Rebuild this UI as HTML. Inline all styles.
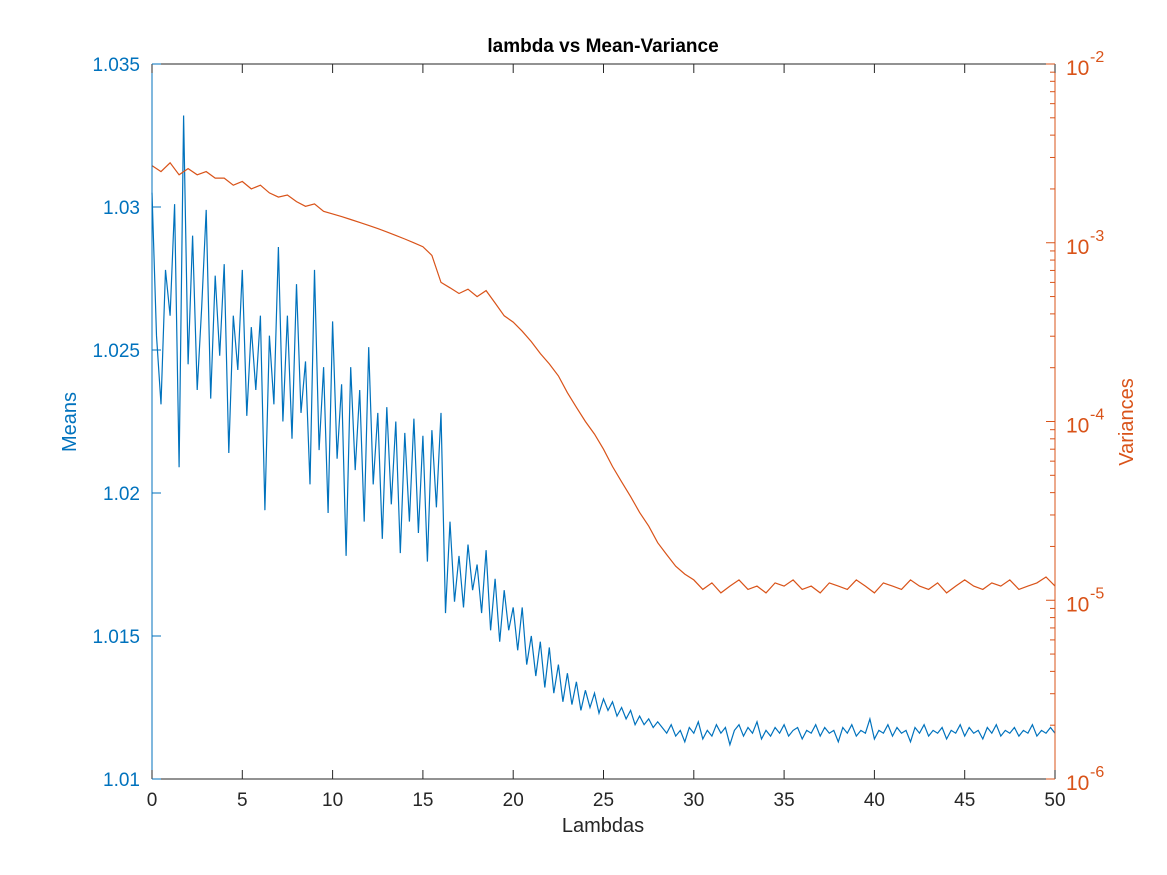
<!DOCTYPE html>
<html><head><meta charset="utf-8"><style>
html,body{margin:0;padding:0;background:#fff;}
svg{display:block;font-family:"Liberation Sans",Arial,sans-serif;}
</style></head><body>
<svg id="chart" width="1167" height="875" viewBox="0 0 1167 875" xmlns="http://www.w3.org/2000/svg">
<rect width="1167" height="875" fill="#fff"/>
<text x="603" y="52" text-anchor="middle" font-size="19" font-weight="bold" fill="#000">lambda vs Mean-Variance</text>
<text x="603" y="832" text-anchor="middle" font-size="20" fill="#262626">Lambdas</text>
<text transform="translate(76,422) rotate(-90)" text-anchor="middle" font-size="20" fill="#0072BD">Means</text>
<text transform="translate(1133,422) rotate(-90)" text-anchor="middle" font-size="20" fill="#D95319">Variances</text>
<g id="layer"></g>
</svg>
<script>
const xTicks=[0,5,10,15,20,25,30,35,40,45,50];
const meanTicks=[1.01,1.015,1.02,1.025,1.03,1.035];
const meanTickLabels=["1.01","1.015","1.02","1.025","1.03","1.035"];
const varExpTicks=[-6,-5,-4,-3,-2];
const means=[1.0305,1.0255,1.0231,1.0278,1.0262,1.0301,1.0209,1.0332,1.0245,1.0290,1.0236,1.0265,1.0299,1.0233,1.0276,1.0248,1.0280,1.0214,1.0262,1.0243,1.0278,1.0227,1.0258,1.0236,1.0262,1.0194,1.0255,1.0231,1.0286,1.0225,1.0262,1.0219,1.0273,1.0228,1.0246,1.0203,1.0278,1.0215,1.0244,1.0193,1.0260,1.0212,1.0238,1.0178,1.0244,1.0208,1.0236,1.0190,1.0251,1.0203,1.0228,1.0184,1.0230,1.0196,1.0225,1.0179,1.0221,1.0190,1.0226,1.0186,1.0220,1.0176,1.0222,1.0195,1.0228,
1.0158,1.0190,1.0162,1.0178,1.0160,1.0182,1.0166,1.0175,1.0158,1.0180,1.0152,1.0170,1.0148,1.0166,1.0152,1.0160,
1.0145,1.0160,1.0140,1.0150,1.0136,1.0148,1.0132,1.0146,1.0130,1.0140,1.0127,1.0137,1.0126,1.0134,1.0124,1.0131,1.0125,1.0130,1.0123,1.0128,
1.0124,1.0127,1.0122,1.0125,1.0121,1.0124,1.0119,1.0122,1.0119,1.0121,1.0118,1.0120,
1.0118,1.0116,1.0119,1.0115,1.0117,1.0113,1.0118,1.0116,1.0120,1.0114,1.0117,1.0115,1.0119,1.0116,1.0118,1.0112,1.0117,1.0119,1.0115,1.0118,1.0116,1.0120,1.0114,1.0117,1.0115,1.0118,1.0116,1.0119,1.0115,1.0117,1.0118,1.0114,1.0117,1.0116,1.0119,1.0115,1.0118,1.0116,1.0117,1.0113,1.0118,1.0116,1.0119,1.0115,1.0117,1.0116,1.0121,1.0114,1.0117,1.0116,1.0119,1.0115,1.0118,1.0116,1.0117,1.0113,1.0118,1.0116,1.0119,1.0115,1.0117,1.0116,1.0118,1.0114,1.0117,1.0116,1.0119,1.0115,1.0118,1.0116,1.0117,1.0114,1.0118,1.0116,1.0119,1.0115,1.0117,1.0116,1.0118,1.0115,1.0117,1.0116,1.0119,1.0115,1.0117,1.0116,1.0118,1.0116];
const variances=[2.7e-3,2.5e-3,2.8e-3,2.4e-3,2.6e-3,2.4e-3,2.5e-3,2.3e-3,2.3e-3,2.1e-3,2.2e-3,2.0e-3,2.1e-3,1.9e-3,1.8e-3,1.85e-3,1.7e-3,1.6e-3,1.65e-3,1.5e-3,1.45e-3,1.4e-3,1.35e-3,1.3e-3,1.25e-3,1.2e-3,1.15e-3,1.1e-3,1.05e-3,1.0e-3,0.95e-3,0.85e-3,
6.0e-4,5.6e-4,5.2e-4,5.5e-4,5.0e-4,5.4e-4,4.6e-4,3.9e-4,3.6e-4,3.2e-4,2.8e-4,2.4e-4,2.1e-4,1.8e-4,1.45e-4,1.2e-4,1.0e-4,8.5e-5,7.0e-5,5.6e-5,4.6e-5,3.8e-5,3.1e-5,2.6e-5,2.1e-5,1.8e-5,1.55e-5,1.4e-5,1.3e-5,
1.15e-5,1.25e-5,1.1e-5,1.2e-5,1.3e-5,1.15e-5,1.2e-5,1.1e-5,1.25e-5,1.2e-5,1.3e-5,1.15e-5,1.2e-5,1.1e-5,1.25e-5,1.2e-5,1.15e-5,1.3e-5,1.2e-5,1.1e-5,1.25e-5,1.2e-5,1.15e-5,1.3e-5,1.2e-5,1.15e-5,1.25e-5,1.1e-5,1.2e-5,1.3e-5,1.2e-5,1.15e-5,1.25e-5,1.2e-5,1.3e-5,1.15e-5,1.2e-5,1.25e-5,1.35e-5,1.2e-5];

const L=152,R=1055,T=64,B=779;
const xS=v=>L+(v-0)/(50-0)*(R-L);
const yM=v=>B-(v-1.01)/(1.035-1.01)*(B-T);
const yV=v=>B-(Math.log10(v)+6)/4*(B-T);
const NS="http://www.w3.org/2000/svg";
const layer=document.getElementById('layer');
function mk(tag,attrs,parent){const e=document.createElementNS(NS,tag);for(const k in attrs)e.setAttribute(k,attrs[k]);(parent||layer).appendChild(e);return e;}

const pm=means.map((v,i)=>xS(50*i/(means.length-1)).toFixed(1)+','+yM(v).toFixed(1)).join(' ');
const lm=mk('polyline',{points:pm,fill:'none',stroke:'#0072BD','stroke-width':1.2});


const pv=variances.map((v,i)=>xS(50*i/(variances.length-1)).toFixed(1)+','+yV(v).toFixed(1)).join(' ');
const lv=mk('polyline',{points:pv,fill:'none',stroke:'#D95319','stroke-width':1.2});



mk('line',{x1:L,y1:T,x2:R,y2:T,stroke:'#262626','stroke-width':1});
const xa=mk('line',{x1:L,y1:B,x2:R,y2:B,stroke:'#262626','stroke-width':1});


const la=mk('line',{x1:L,y1:T,x2:L,y2:B,stroke:'#0072BD','stroke-width':1});


const ra=mk('line',{x1:R,y1:T,x2:R,y2:B,stroke:'#D95319','stroke-width':1});



xTicks.forEach(t=>{const x=xS(t);
 mk('line',{x1:x,y1:B,x2:x,y2:B-9,stroke:'#262626'});
 mk('line',{x1:x,y1:T,x2:x,y2:T+9,stroke:'#262626'});
 const tx=mk('text',{x:x,y:806,'text-anchor':'middle','font-size':19,fill:'#262626'});tx.textContent=t;
 
 
});
meanTicks.forEach((t,i)=>{const y=yM(t);
 mk('line',{x1:L,y1:y,x2:L+9,y2:y,stroke:'#0072BD'});
 const tx=mk('text',{x:140,y:y+7,'text-anchor':'end','font-size':19,fill:'#0072BD'});tx.textContent=meanTickLabels[i];
 
 
});
varExpTicks.forEach(e=>{const y=yV(Math.pow(10,e));
 mk('line',{x1:R,y1:y,x2:R-9,y2:y,stroke:'#D95319'});
 if(e<-2){for(let m=2;m<=9;m++){const ym=yV(m*Math.pow(10,e));mk('line',{x1:R,y1:ym,x2:R-5,y2:ym,stroke:'#D95319'});}}
 const tx=mk('text',{x:1066,y:y+11,'font-size':21,fill:'#D95319'});tx.textContent='10';
 
 
 const sp=mk('text',{x:1090,y:y-2,'font-size':16,fill:'#D95319'});sp.textContent=String(e);
 
 
});
</script>
</body></html>
